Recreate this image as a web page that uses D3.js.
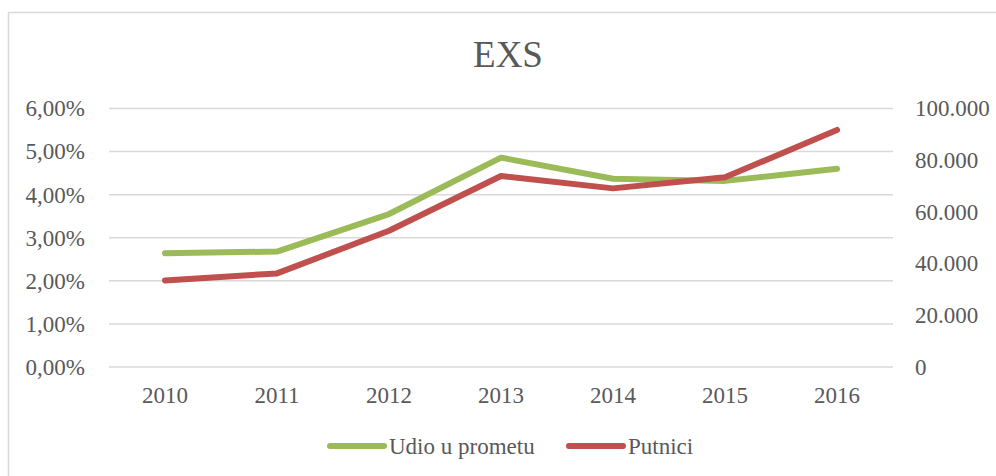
<!DOCTYPE html>
<html>
<head>
<meta charset="utf-8">
<script src="https://cdn.jsdelivr.net/npm/d3@7"></script>
<style>
  html, body { margin: 0; padding: 0; background: #fff; }
  svg { display: block; }
</style>
</head>
<body>
<svg id="chart" width="996" height="476"></svg>
<script>
// Chart data
const years = ["2010", "2011", "2012", "2013", "2014", "2015", "2016"];
const udioUPrometu = [0.0264, 0.0268, 0.0355, 0.0486, 0.0437, 0.0432, 0.0460];
const putnici = [33500, 36200, 52700, 73900, 69100, 73400, 91700];
const leftTicks = [0, 0.01, 0.02, 0.03, 0.04, 0.05, 0.06];
const rightTicks = [0, 20000, 40000, 60000, 80000, 100000];
const seriesNames = ["Udio u prometu", "Putnici"];
const seriesColors = ["#9BBB59", "#C0504D"];

const svg = d3.select("#chart");
const font = "'Liberation Serif', 'Times New Roman', serif";
const textColor = "#595959";
const gridColor = "#d9d9d9";

// chart frame
svg.append("rect")
  .attr("x", 8.5).attr("y", 12.5)
  .attr("width", 1000).attr("height", 480)
  .attr("fill", "#fff")
  .attr("stroke", gridColor).attr("stroke-width", 1.5);

// title
svg.append("text")
  .attr("x", 508).attr("y", 67)
  .attr("text-anchor", "middle")
  .attr("font-family", font).attr("font-size", 37)
  .attr("fill", textColor)
  .text("EXS");

const plot = { left: 109, right: 893, top: 108.5, bottom: 367 };

const x = d3.scaleBand().domain(years).range([plot.left, plot.right]);
const yL = d3.scaleLinear().domain([0, 0.06]).range([plot.bottom, plot.top]);
const yR = d3.scaleLinear().domain([0, 100000]).range([plot.bottom, plot.top]);

// gridlines
svg.append("g").selectAll("line").data(leftTicks).join("line")
  .attr("x1", plot.left).attr("x2", plot.right)
  .attr("y1", d => yL(d)).attr("y2", d => yL(d))
  .attr("stroke", gridColor).attr("stroke-width", 1.5);

const pctFmt = d => d3.format(".2f")(d * 100).replace(".", ",") + "%";
const numFmt = d => d === 0 ? "0" : d3.format(",")(d).replace(/,/g, ".");

// left axis
const leftAxis = svg.append("g")
  .attr("transform", `translate(${plot.left - 24},0)`)
  .call(d3.axisLeft(yL).tickValues(leftTicks).tickFormat(pctFmt).tickSize(0).tickPadding(0));
leftAxis.select(".domain").remove();
leftAxis.selectAll("text")
  .attr("font-family", font).attr("font-size", 23).attr("fill", textColor)
  .attr("dy", "0.32em");

// right axis
const rightAxis = svg.append("g")
  .attr("transform", `translate(${plot.right + 22},0)`)
  .call(d3.axisRight(yR).tickValues(rightTicks).tickFormat(numFmt).tickSize(0).tickPadding(0));
rightAxis.select(".domain").remove();
rightAxis.selectAll("text")
  .attr("font-family", font).attr("font-size", 23).attr("fill", textColor)
  .attr("dy", "0.32em");

// bottom axis
const bottomAxis = svg.append("g")
  .attr("transform", `translate(0,${plot.bottom})`)
  .call(d3.axisBottom(x).tickSize(0).tickPadding(0));
bottomAxis.select(".domain").remove();
bottomAxis.selectAll("text")
  .attr("font-family", font).attr("font-size", 23).attr("fill", textColor)
  .attr("y", 36).attr("dy", 0);

const cx = d => x(d) + x.bandwidth() / 2;

// lines
const lineL = d3.line().x((d, i) => cx(years[i])).y(d => yL(d));
const lineR = d3.line().x((d, i) => cx(years[i])).y(d => yR(d));

svg.append("path").datum(udioUPrometu)
  .attr("d", lineL)
  .attr("fill", "none").attr("stroke", seriesColors[0])
  .attr("stroke-width", 6).attr("stroke-linecap", "round").attr("stroke-linejoin", "round");

svg.append("path").datum(putnici)
  .attr("d", lineR)
  .attr("fill", "none").attr("stroke", seriesColors[1])
  .attr("stroke-width", 6).attr("stroke-linecap", "round").attr("stroke-linejoin", "round");

// legend
const legendItems = [
  { name: seriesNames[0], color: seriesColors[0], x: 330 },
  { name: seriesNames[1], color: seriesColors[1], x: 569 }
];
const lg = svg.append("g").selectAll("g").data(legendItems).join("g")
  .attr("transform", d => `translate(${d.x},446)`);
lg.append("line")
  .attr("x1", 0).attr("x2", 54).attr("y1", 0).attr("y2", 0)
  .attr("stroke", d => d.color).attr("stroke-width", 6).attr("stroke-linecap", "round");
lg.append("text")
  .attr("x", 59).attr("y", 8)
  .attr("font-family", font).attr("font-size", 23).attr("fill", textColor)
  .text(d => d.name);
</script>
</body>
</html>
